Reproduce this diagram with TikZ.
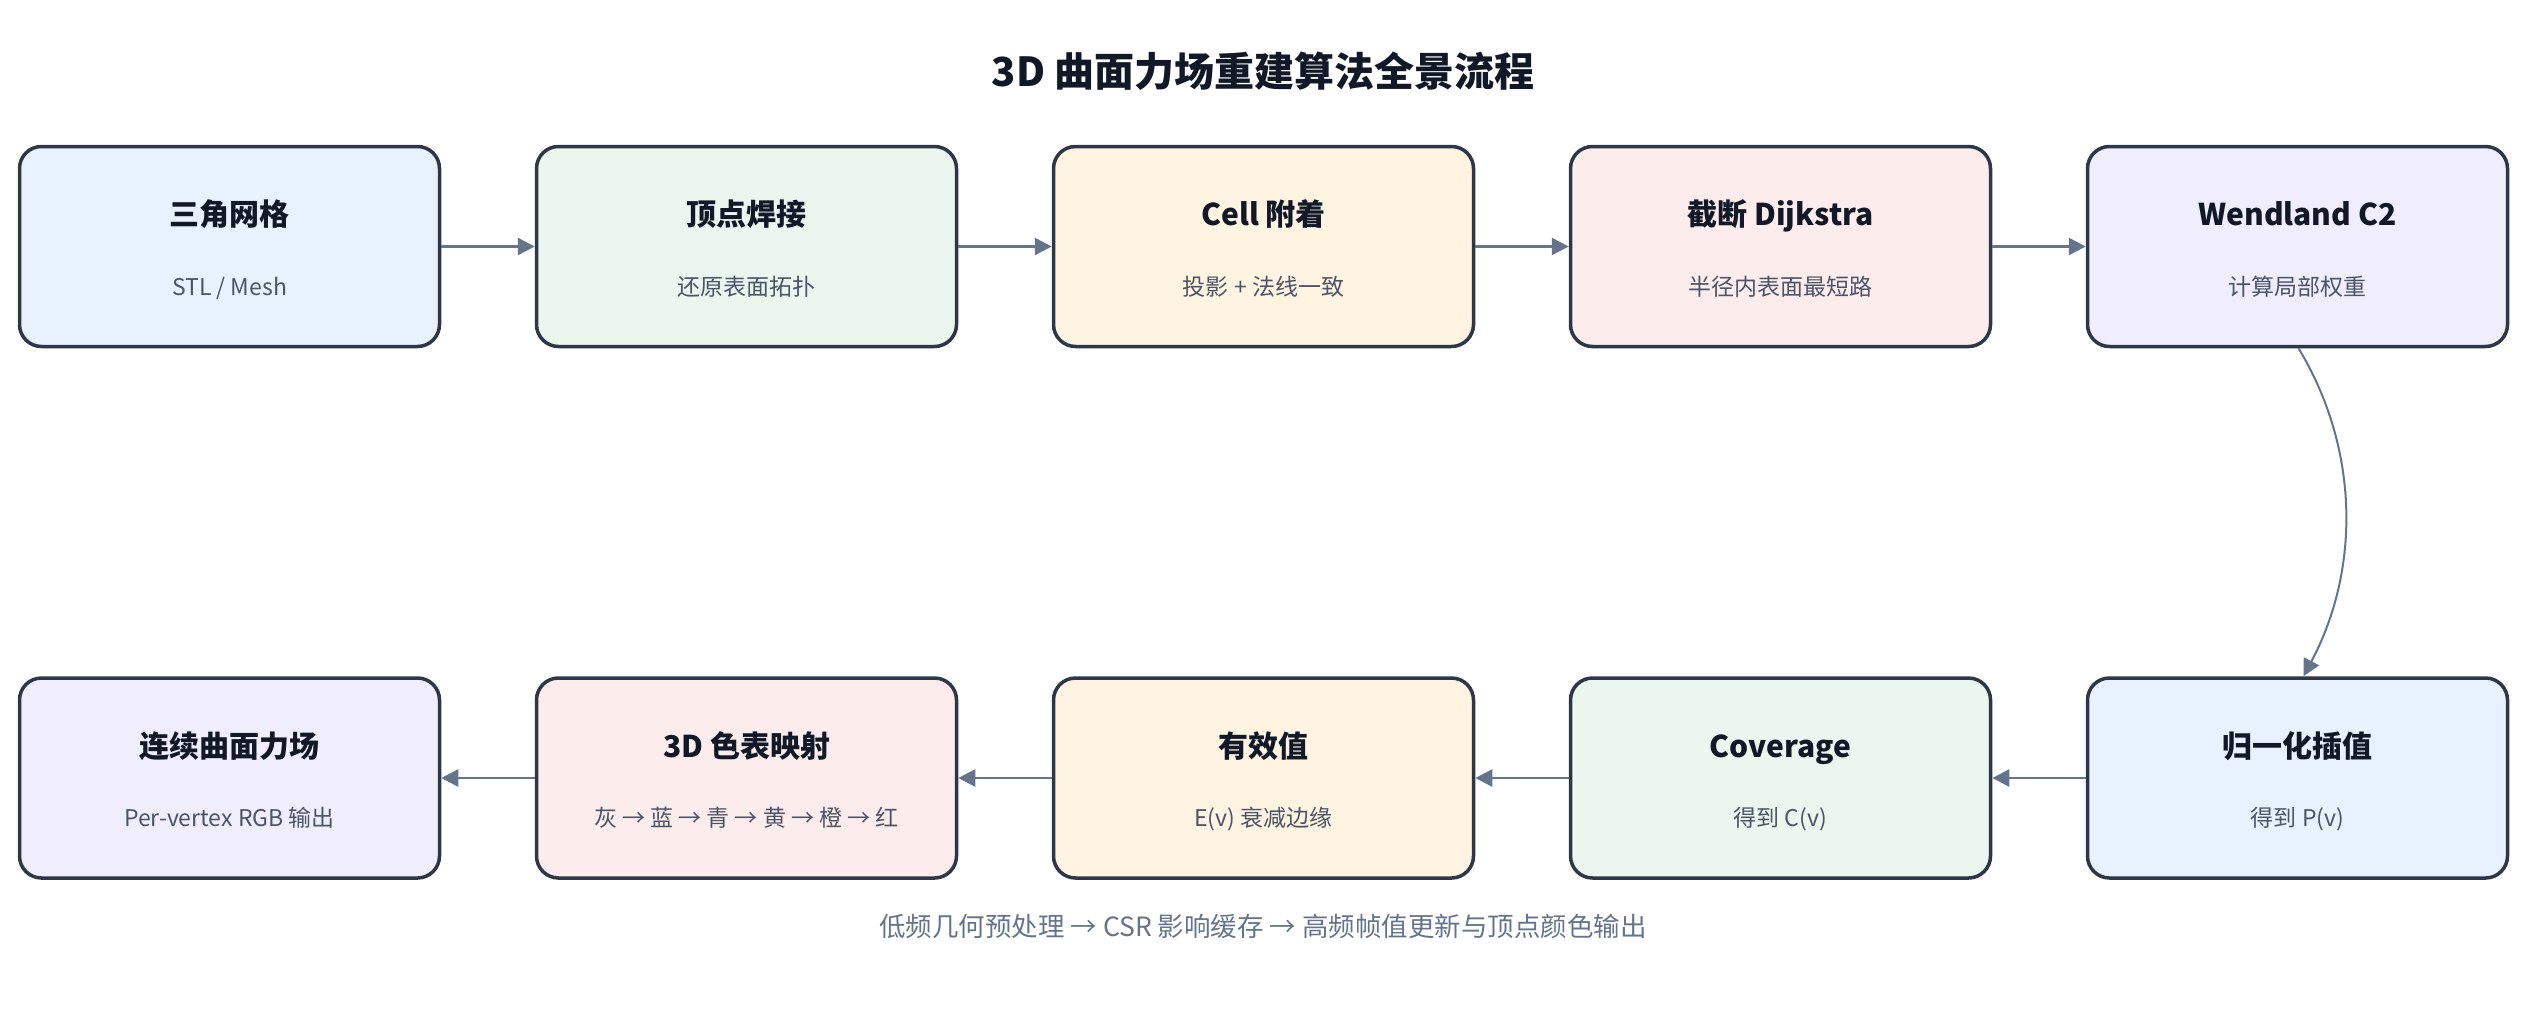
\documentclass[tikz,border=0pt]{standalone}
\usepackage{fontspec}
\setmainfont{Noto Sans CJK SC}
\usetikzlibrary{arrows.meta}
\definecolor{boxline}{HTML}{2D3748}
\definecolor{titlecol}{HTML}{111827}
\definecolor{subcol}{HTML}{4A5568}
\definecolor{arrowcol}{HTML}{64748B}
\definecolor{fblue}{HTML}{E8F1FE}
\definecolor{fgreen}{HTML}{EAF6EE}
\definecolor{fyellow}{HTML}{FEF4E1}
\definecolor{fpink}{HTML}{FDECEC}
\definecolor{fviolet}{HTML}{F0EDFD}
\begin{document}
\begin{tikzpicture}[x=1pt,y=-1pt,
  stepbox/.style={draw=boxline, line width=3.5pt, rounded corners=22pt,
    minimum width=420pt, minimum height=200pt, inner sep=0pt},
  ttl/.style={font=\fontsize{30}{36}\selectfont\bfseries, text=titlecol, inner sep=0pt,
    text height=26pt, text depth=4pt},
  sub/.style={font=\fontsize{23}{28}\selectfont, text=subcol, inner sep=0pt,
    text height=20pt, text depth=3pt},
  flow/.style={draw=arrowcol, line width=2.5pt, -{Triangle[length=17pt,width=17pt]}},
  bigtitle/.style={font=\fontsize{40}{48}\selectfont\bfseries, text=titlecol},
  foot/.style={font=\fontsize{26.5}{32}\selectfont, text=arrowcol}]
\useasboundingbox (0,0) rectangle (2526,1013);

\node[bigtitle] (title) at (1263,71) {3D 曲面力场重建算法全景流程};

% row 1
\node[stepbox, fill=fblue]   (b1) at (229.5,246.5) {};
\node[stepbox, fill=fgreen]  (b2) at (746.5,246.5) {};
\node[stepbox, fill=fyellow] (b3) at (1263.5,246.5) {};
\node[stepbox, fill=fpink]   (b4) at (1780.5,246.5) {};
\node[stepbox, fill=fviolet] (b5) at (2297.5,246.5) {};
% row 2
\node[stepbox, fill=fblue]   (b6) at (2297.5,778) {};
\node[stepbox, fill=fgreen]  (b7) at (1780.5,778) {};
\node[stepbox, fill=fyellow] (b8) at (1263.5,778) {};
\node[stepbox, fill=fpink]   (b9) at (746.5,778) {};
\node[stepbox, fill=fviolet] (b10) at (229.5,778) {};

\node[ttl] (t1) at ([yshift=32]b1.center) {三角网格};
\node[sub] (s1) at ([yshift=-40]b1.center) {STL / Mesh};
\node[ttl] (t2) at ([yshift=32]b2.center) {顶点焊接};
\node[sub] (s2) at ([yshift=-40]b2.center) {还原表面拓扑};
\node[ttl] (t3) at ([yshift=32]b3.center) {Cell 附着};
\node[sub] (s3) at ([yshift=-40]b3.center) {投影 + 法线一致};
\node[ttl] (t4) at ([yshift=32]b4.center) {截断 Dijkstra};
\node[sub] (s4) at ([yshift=-40]b4.center) {半径内表面最短路};
\node[ttl] (t5) at ([yshift=32]b5.center) {Wendland C2};
\node[sub] (s5) at ([yshift=-40]b5.center) {计算局部权重};
\node[ttl] (t6) at ([yshift=32]b6.center) {归一化插值};
\node[sub] (s6) at ([yshift=-40]b6.center) {得到 P(v)};
\node[ttl] (t7) at ([yshift=32]b7.center) {Coverage};
\node[sub] (s7) at ([yshift=-40]b7.center) {得到 C(v)};
\node[ttl] (t8) at ([yshift=32]b8.center) {有效值};
\node[sub] (s8) at ([yshift=-40]b8.center) {E(v) 衰减边缘};
\node[ttl] (t9) at ([yshift=32]b9.center) {3D 色表映射};
\node[sub] (s9) at ([yshift=-40]b9.center) {灰 → 蓝 → 青 → 黄 → 橙 → 红};
\node[ttl] (t10) at ([yshift=32]b10.center) {连续曲面力场};
\node[sub] (s10) at ([yshift=-40]b10.center) {Per-vertex RGB 输出};

\node[foot] (footer) at (1263,926) {低频几何预处理 → CSR 影响缓存 → 高频帧值更新与顶点颜色输出};

% connectors
\draw[flow] (b1.east) -- (b2.west);
\draw[flow] (b2.east) -- (b3.west);
\draw[flow] (b3.east) -- (b4.west);
\draw[flow] (b4.east) -- (b5.west);
\draw[flow, line width=2pt] ([xshift=1]b5.south) .. controls (2360,450) and (2360,570) .. ([xshift=6]b6.north);
\draw[flow] (b6.west) -- (b7.east);
\draw[flow] (b7.west) -- (b8.east);
\draw[flow] (b8.west) -- (b9.east);
\draw[flow] (b9.west) -- (b10.east);
\end{tikzpicture}
\end{document}
